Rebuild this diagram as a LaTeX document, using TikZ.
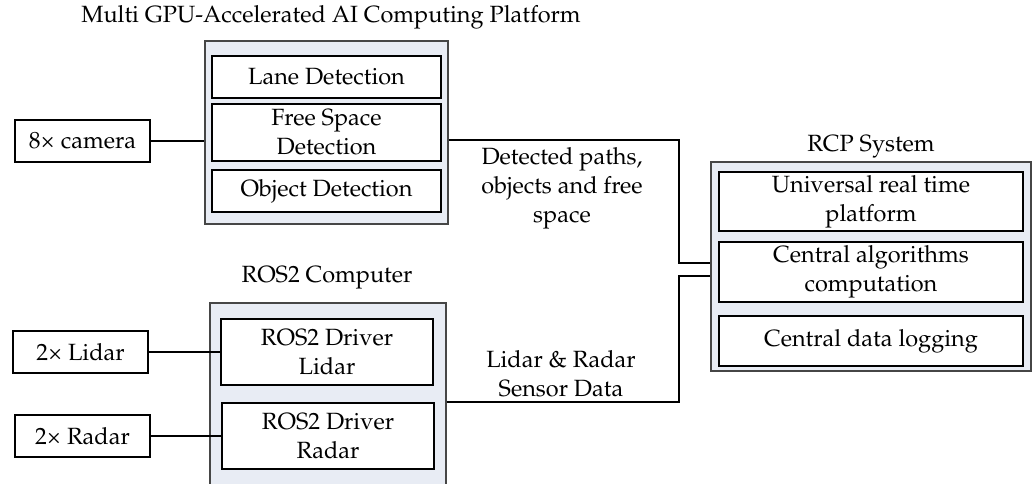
\documentclass[tikz,border=0pt]{standalone}
\usepackage[T1]{fontenc}
\usepackage{mathpazo}
\usepackage{textcomp}
\definecolor{contfill}{RGB}{232,236,244}
\definecolor{contdraw}{RGB}{70,70,70}
\tikzset{
  container/.style={draw=contdraw, fill=contfill, line width=1.6pt, inner sep=0pt},
  innerbox/.style={draw=black, fill=white, line width=1.6pt, inner sep=0pt, align=center, font=\fontsize{23.5}{29}\selectfont},
  outbox/.style={draw=black, fill=white, line width=1.6pt, inner sep=0pt, align=center, font=\fontsize{23.5}{29}\selectfont, minimum width=135pt, minimum height=42pt},
  title/.style={inner sep=0pt, align=center, font=\fontsize{23.5}{29}\selectfont},
  conn/.style={draw=black, line width=1.6pt}
}
\begin{document}
\begin{tikzpicture}[x=1pt,y=-1pt]
\useasboundingbox (0,0) rectangle (1036,483);
\clip (0,0) rectangle (1036,483);
\fill[white] (0,0) rectangle (1036,483);
% GPU platform
\node[title] (gputitle) at (331,17) {Multi GPU-Accelerated AI Computing Platform};
\node[container, minimum width=243pt, minimum height=183pt] (gpu) at (326.5,132.5) {};
\node[innerbox, minimum width=229pt, minimum height=42pt] (lane) at (326.5,77) {Lane Detection};
\node[innerbox, minimum width=229pt, minimum height=57pt] (free) at (326.5,132.5) {Free Space\\Detection};
\node[innerbox, minimum width=229pt, minimum height=42pt] (obj) at (326.5,191) {Object Detection};
\node[outbox] (cam) at (82.5,141) {8\texttimes{} camera};
% RCP system
\node[title] (rcptitle) at (871,147) {RCP System};
\node[container, minimum width=320pt, minimum height=209pt] (rcp) at (871,266.5) {};
\node[innerbox, minimum width=304pt, minimum height=59pt] (urt) at (871,201.5) {Universal real time\\platform};
\node[innerbox, minimum width=304pt, minimum height=60pt] (cac) at (871,272) {Central algorithms\\computation};
\node[innerbox, minimum width=304pt, minimum height=50pt] (cdl) at (871,341) {Central data logging};
% ROS2 computer
\node[title] (rostitle) at (327,278) {ROS2 Computer};
\node[container, minimum width=236pt, minimum height=200pt, anchor=north west] (ros) at (209,302) {};
\node[innerbox, minimum width=212pt, minimum height=66pt] (rdl) at (327,352) {ROS2 Driver\\Lidar};
\node[innerbox, minimum width=212pt, minimum height=66pt] (rdr) at (328,436) {ROS2 Driver\\Radar};
\node[outbox] (lidar) at (80.5,352) {2\texttimes{} Lidar};
\node[outbox] (radar) at (82.5,436) {2\texttimes{} Radar};
% labels
\node[title] (lbl1) at (562,188) {Detected paths,\\objects and free\\space};
\node[title] (lbl2) at (561,374) {Lidar \& Radar\\Sensor Data};
% junctions
\coordinate (j1) at (679,140);
\coordinate (j2) at (679,402);
% connectors
\draw[conn] (cam.east) -- (cam.east -| gpu.west);
\draw[conn] (j1 -| gpu.east) -- (j1) |- ([yshift=3.5pt]rcp.west);
\draw[conn] (j2 -| ros.east) -- (j2) |- ([yshift=-9.5pt]rcp.west);
\draw[conn] (lidar.east) -- (rdl.west);
\draw[conn] (radar.east) -- (rdr.west);
\end{tikzpicture}
\end{document}
